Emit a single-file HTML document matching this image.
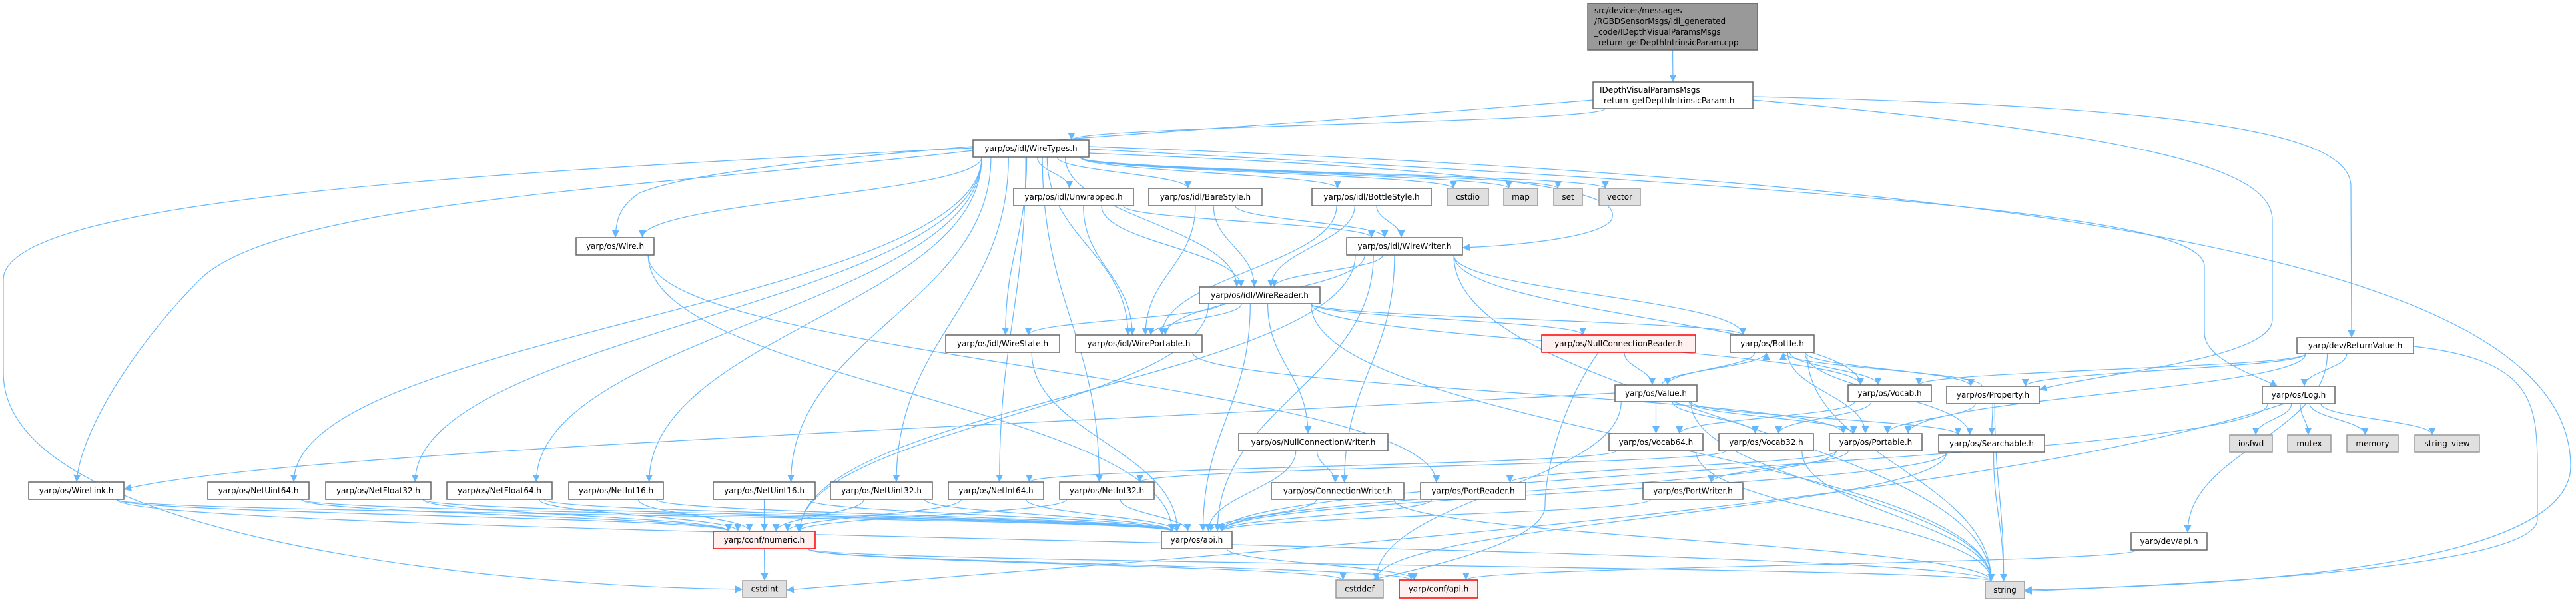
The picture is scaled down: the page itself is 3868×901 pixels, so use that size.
<!DOCTYPE html>
<html><head><meta charset="utf-8">
<style>
html,body{margin:0;padding:0;background:#fff;}
svg{display:block;}
text{font-family:"DejaVu Sans","Liberation Sans",sans-serif;font-size:12px;fill:#000;}
</style></head>
<body>
<svg id="g" width="3868" height="901" viewBox="0 0 3868 901" xmlns="http://www.w3.org/2000/svg">
<defs>
<marker id="ah" viewBox="0 0 10 10" refX="10" refY="5" markerWidth="11" markerHeight="11" markerUnits="userSpaceOnUse" orient="auto">
<path d="M0,0 L10,5 L0,10 z" fill="#63b8ff"/>
</marker>
</defs>
<g id="edges" fill="none" stroke="#63b8ff" stroke-width="1.2"></g>
<g id="nodes"></g>
</svg>
<script>
var N={
top:[["src/devices/messages","/RGBDSensorMsgs/idl_generated","_code/IDepthVisualParamsMsgs","_return_getDepthIntrinsicParam.cpp"],2384,2639,5,75,"t"],
idv:[["IDepthVisualParamsMsgs","_return_getDepthIntrinsicParam.h"],2392,2632,123,163,"n"],
wt:[["yarp/os/idl/WireTypes.h"],1461,1635,210,236,"n"],
unw:[["yarp/os/idl/Unwrapped.h"],1522,1702,283,309,"n"],
bare:[["yarp/os/idl/BareStyle.h"],1725,1895,283,309,"n"],
bot:[["yarp/os/idl/BottleStyle.h"],1970,2149,283,309,"n"],
cstdio:[["cstdio"],2173,2235,283,309,"s"],
map:[["map"],2258,2309,283,309,"s"],
set:[["set"],2333,2376,283,309,"s"],
vector:[["vector"],2401,2463,283,309,"s"],
wire:[["yarp/os/Wire.h"],865,982,357,383,"n"],
ww:[["yarp/os/idl/WireWriter.h"],2022,2196,357,383,"n"],
wr:[["yarp/os/idl/WireReader.h"],1801,1982,431,456,"n"],
ws:[["yarp/os/idl/WireState.h"],1420,1591,503,529,"n"],
wp:[["yarp/os/idl/WirePortable.h"],1615,1805,503,529,"n"],
ncr:[["yarp/os/NullConnectionReader.h"],2315,2546,503,529,"r"],
bottle:[["yarp/os/Bottle.h"],2598,2724,503,529,"n"],
rv:[["yarp/dev/ReturnValue.h"],3449,3624,507,531,"n"],
value:[["yarp/os/Value.h"],2425,2548,578,603,"n"],
vocab:[["yarp/os/Vocab.h"],2775,2900,578,603,"n"],
prop:[["yarp/os/Property.h"],2923,3062,580,606,"n"],
log:[["yarp/os/Log.h"],3397,3506,580,606,"n"],
ncw:[["yarp/os/NullConnectionWriter.h"],1860,2084,651,677,"n"],
v64:[["yarp/os/Vocab64.h"],2416,2557,651,677,"n"],
v32:[["yarp/os/Vocab32.h"],2581,2723,651,677,"n"],
port:[["yarp/os/Portable.h"],2747,2886,651,677,"n"],
search:[["yarp/os/Searchable.h"],2911,3070,653,679,"n"],
iosfwd:[["iosfwd"],3348,3412,653,679,"s"],
mutex:[["mutex"],3435,3500,653,679,"s"],
memory:[["memory"],3524,3601,653,679,"s"],
sv:[["string_view"],3626,3723,653,679,"s"],
wl:[["yarp/os/WireLink.h"],43,186,724,750,"n"],
nu64:[["yarp/os/NetUint64.h"],312,464,724,750,"n"],
nf32:[["yarp/os/NetFloat32.h"],489,647,724,750,"n"],
nf64:[["yarp/os/NetFloat64.h"],671,829,724,750,"n"],
ni16:[["yarp/os/NetInt16.h"],854,996,724,750,"n"],
nu16:[["yarp/os/NetUint16.h"],1071,1224,724,750,"n"],
nu32:[["yarp/os/NetUint32.h"],1247,1400,724,750,"n"],
ni64:[["yarp/os/NetInt64.h"],1424,1567,724,750,"n"],
ni32:[["yarp/os/NetInt32.h"],1591,1733,724,750,"n"],
cw:[["yarp/os/ConnectionWriter.h"],1909,2108,725,750,"n"],
pr:[["yarp/os/PortReader.h"],2133,2291,725,750,"n"],
pw:[["yarp/os/PortWriter.h"],2467,2617,725,750,"n"],
num:[["yarp/conf/numeric.h"],1071,1224,798,824,"r"],
api:[["yarp/os/api.h"],1744,1850,798,824,"n"],
dapi:[["yarp/dev/api.h"],3200,3314,800,826,"n"],
cstdint:[["cstdint"],1115,1181,872,897,"s"],
cstddef:[["cstddef"],2006,2077,871,898,"s"],
capi:[["yarp/conf/api.h"],2101,2219,871,898,"r"],
string:[["string"],2981,3040,873,899,"s"]
};
var C={
"wt-cstdint":"M1461,222 C700,260 5,300 5,420 L5,560 C5,800 700,880 1115,885",
"wt-string":"M1635,220 C3000,270 3860,380 3860,700 C3860,860 3300,880 3040,886",
"wt-log":"M1635,224 C2900,290 3310,330 3310,400 L3310,500 C3310,540 3390,565 3420,580",
"wt-wl":"M1461,226 C1000,280 420,300 300,420 C200,520 120,650 115,724",
"idv-rv":"M2632,145 C3300,160 3530,200 3530,280 L3531,507",
"idv-prop":"M2632,150 C3200,200 3412,250 3412,330 L3412,480 C3412,540 3150,560 3062,585",
"idv-wire":"M2392,150 C1800,200 1100,230 960,290 C930,310 925,330 924,357",
"wt-ww":"M1635,230 C2400,260 2430,300 2420,330 C2400,360 2250,370 2196,372",
"value-wl":"M2425,590 C1500,640 400,680 186,735",
"rv-string":"M3624,520 C3800,540 3810,600 3810,700 L3810,780 C3810,860 3200,880 3040,888",
"log-cstdint":"M3430,606 C3000,750 2000,820 1181,886",
"ncr-cstddef":"M2400,529 C2350,600 2320,700 2320,760 C2320,820 2100,860 2060,871"
};
var E=[
["top","idv"],["idv","wt"],["idv","wire"],["idv","prop"],["idv","rv"],
["wt","unw"],["wt","bare"],["wt","bot"],["wt","cstdio"],["wt","map"],["wt","set"],["wt","vector"],
["wt","ww"],["wt","wr"],["wt","ws"],["wt","wp"],["wt","wire"],["wt","wl"],["wt","nu64"],["wt","nf32"],
["wt","nf64"],["wt","ni16"],["wt","nu16"],["wt","nu32"],["wt","ni64"],["wt","ni32"],["wt","cstdint"],
["wt","log"],["wt","string"],
["unw","ww"],["unw","wr"],["unw","wp"],["bare","ww"],["bare","wr"],["bare","wp"],
["bot","ww"],["bot","wr"],["bot","wp"],
["ww","wr"],["ww","wp"],["ww","bottle"],["ww","vocab"],["ww","cw"],["ww","api"],["ww","num"],["ww","string"],
["wr","ws"],["wr","wp"],["wr","ncr"],["wr","bottle"],["wr","vocab"],["wr","ncw"],["wr","api"],["wr","num"],["wr","string"],
["wire","pr"],["wire","api"],["ws","api"],["wp","port"],
["ncr","value"],["ncr","cstddef"],
["bottle","value"],["bottle","vocab"],["bottle","prop"],["bottle","port"],["bottle","search"],["bottle","string"],
["value","bottle"],["value","v64"],["value","v32"],["value","port"],["value","search"],["value","wl"],["value","cstddef"],["value","string"],
["vocab","v64"],["vocab","v32"],
["prop","bottle"],["prop","port"],["prop","search"],["prop","string"],
["v64","ni64"],["v64","string"],["v32","ni32"],["v32","string"],
["port","pr"],["port","pw"],["port","api"],
["search","api"],["search","string"],["search","cstddef"],
["pw","api"],["pr","api"],["cw","api"],["cw","string"],["ncw","cw"],["ncw","api"],
["nu64","num"],["nu64","api"],["nf32","num"],["nf32","api"],["nf64","num"],["nf64","api"],
["ni16","num"],["ni16","api"],["nu16","num"],["nu16","api"],["nu32","num"],["nu32","api"],
["ni64","num"],["ni64","api"],["ni32","num"],["ni32","api"],
["wl","api"],["wl","num"],["wl","string"],
["num","cstdint"],["num","cstddef"],["num","capi"],["num","string"],
["api","capi"],
["rv","prop"],["rv","log"],["rv","port"],["rv","dapi"],["rv","string"],["rv","vocab"],
["log","iosfwd"],["log","mutex"],["log","memory"],["log","sv"],["log","api"],["log","cstdint"],
["dapi","capi"]
];
var ns="http://www.w3.org/2000/svg";
var eg=document.getElementById("edges");
E.forEach(function(e){
 var a=N[e[0]],b=N[e[1]];
 var acx=(a[1]+a[2])/2,bcx=(b[1]+b[2])/2,aw=(a[2]-a[1])/2,bw=(b[2]-b[1])/2;
 var sx,sy,tx,ty,d=C[e[0]+"-"+e[1]];
 if(!d){
 if(b[3]>a[4]){
  sx=acx+Math.max(-aw*0.85,Math.min(aw*0.85,(bcx-acx)*0.15));
  sy=a[4];
  tx=bcx+Math.max(-bw*0.7,Math.min(bw*0.7,(acx-bcx)*0.1));
  ty=b[3];
  var dy=ty-sy;
  d="M"+sx+","+sy+" C"+sx+","+(sy+dy*0.45)+" "+tx+","+(ty-dy*0.45)+" "+tx+","+ty;
 } else if(b[4]<a[3]){
  sx=acx+(bcx-acx)*0.05; sy=a[3];
  tx=bcx+(acx-bcx)*0.05; ty=b[4];
  var dy2=sy-ty;
  d="M"+sx+","+sy+" C"+sx+","+(sy-dy2*0.45)+" "+tx+","+(ty+dy2*0.45)+" "+tx+","+ty;
 } else {
  sy=(a[3]+a[4])/2; ty=(b[3]+b[4])/2;
  if(bcx>acx){sx=a[2];tx=b[1];}else{sx=a[1];tx=b[2];}
  d="M"+sx+","+sy+" L"+tx+","+ty;
 }}
 var p=document.createElementNS(ns,"path");
 p.setAttribute("d",d);p.setAttribute("marker-end","url(#ah)");
 eg.appendChild(p);
});
</script>
<script>
(function(){
var ns="http://www.w3.org/2000/svg";var ng=document.getElementById("nodes");
var st={n:["#ffffff","#666666"],s:["#e0e0e0","#999999"],r:["#fff0f0","#ff0000"],t:["#999999","#666666"]};
for(var k in N){var a=N[k];var r=document.createElementNS(ns,"rect");
 r.setAttribute("x",a[1]);r.setAttribute("y",a[3]);r.setAttribute("width",a[2]-a[1]);r.setAttribute("height",a[4]-a[3]);
 r.setAttribute("fill",st[a[5]][0]);r.setAttribute("stroke",st[a[5]][1]);r.setAttribute("stroke-width","1.5");ng.appendChild(r);
 var lines=a[0];var lh=16;var h=a[4]-a[3];var y0=a[3]+(h-lines.length*lh)/2+12;
 var multi=lines.length>1;
 lines.forEach(function(t,i){var tx=document.createElementNS(ns,"text");
  if(multi){tx.setAttribute("x",a[1]+10);}else{tx.setAttribute("x",(a[1]+a[2])/2);tx.setAttribute("text-anchor","middle");}
  tx.setAttribute("y",y0+i*lh);tx.textContent=t;ng.appendChild(tx);});
}
})();
</script>
</body></html>
